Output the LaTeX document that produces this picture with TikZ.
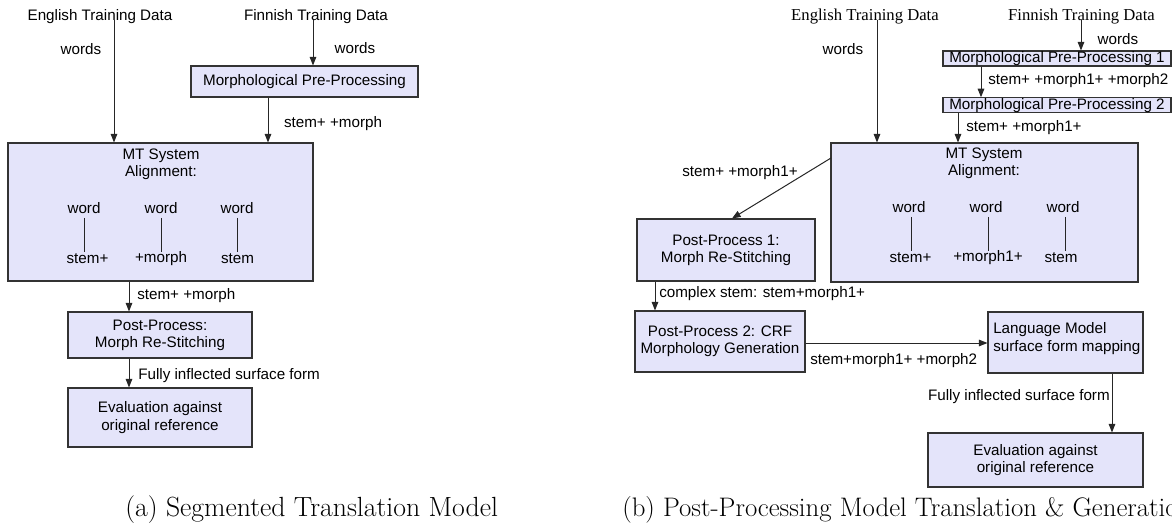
\documentclass[tikz,border=0pt]{standalone}
\usepackage{fontspec}
\newfontfamily\lsansfam{Liberation Sans}
\newfontfamily\lseriffam{Liberation Serif}
\usetikzlibrary{arrows.meta}
\definecolor{boxfill}{RGB}{228,228,250}
\newcommand\lsans{\lsansfam\fontsize{11.4}{12.9}\selectfont}
\newcommand\lserif{\lseriffam\fontsize{12.5}{14}\selectfont}
\newcommand\capfont{\rmfamily\fontsize{20.8}{24}\selectfont}
\newcommand\capfontb{\rmfamily\fontsize{20.1}{24}\selectfont}
\begin{document}
\begin{tikzpicture}[x=0.75pt,y=-0.75pt,
  box/.style={draw=black!80, fill=boxfill, line width=0.8pt, inner sep=0pt, align=center, font=\lsans},
  wh/.style 2 args={minimum width=#1*0.75pt, minimum height=#2*0.75pt},
  slim/.style={text height=8.4pt, text depth=2.4pt},
  lbl/.style={inner sep=0pt, font=\lsans, align=center},
  slbl/.style={inner sep=0pt, font=\lserif},
  arr/.style={draw=black!85, line width=0.75pt, -{Triangle[length=6.5pt,width=5pt]}},
  ln/.style={draw=black!85, line width=0.75pt},
  captxt/.style={inner sep=0pt, font=\capfont, anchor=west}]
\useasboundingbox (0,0) rectangle (1172,529);

% ---------------- (a) ----------------
\node[lbl] (engA) at (100,17) {English Training Data};
\node[lbl] (finA) at (316,17) {Finnish Training Data};
\node[lbl] (wA1) at (81,49) {words};
\node[lbl] (wA2) at (355,48) {words};
\node[box, wh={227}{31}] (mppA) at (304.5,81.5) {Morphological Pre-Processing};
\node[box, wh={305}{138}] (mtA) at (160.5,212) {};
\node[lbl] (mtAt) at (161,164.5) {MT System\\Alignment:};
\node[lbl] (aw1) at (84,208) {word};
\node[lbl] (aw2) at (161,208) {word};
\node[lbl] (aw3) at (237,208) {word};
\node[lbl] (as1) at (87.5,259) {stem+};
\node[lbl] (as2) at (161,259) {+morph};
\node[lbl] (as3) at (237.5,259) {stem};
\foreach \i in {1,2,3}{
  \draw[ln] ([yshift=-3pt]aw\i.south) -- ([yshift=-3pt]aw\i.south |- {0,248});
}
\node[box, wh={184}{46}] (ppA) at (160,335) {Post-Process:\\Morph Re-Stitching};
\node[box, wh={184}{59}] (evA) at (160,417.5) {Evaluation against\\original reference};

\coordinate (eA) at (114,20);
\coordinate (fA) at (313,20);
\coordinate (mA) at (268,97);
\coordinate (pA) at (129,281);
\draw[arr] (eA) -- (eA |- mtA.north);
\draw[arr] (fA) -- (fA |- mppA.north);
\draw[arr] (mA |- mppA.south) -- (mA |- mtA.north);
\draw[arr] (pA |- mtA.south) -- (pA |- ppA.north);
\draw[arr] (pA |- ppA.south) -- (pA |- evA.north);
\node[lbl] (lA1) at (333,124) {stem+ +morph};
\node[lbl, anchor=west] (lA2) at (137,296) {stem+ +morph};
\node[lbl, anchor=west] (lA3) at (138,376) {Fully inflected surface form};
\node[captxt] (capA) at (125,510) {(a) Segmented Translation Model};

% ---------------- (b) ----------------
\node[slbl] (engB) at (865,17) {English Training Data};
\node[slbl] (finB) at (1081.5,17) {Finnish Training Data};
\node[lbl] (wB1) at (843,49) {words};
\node[lbl] (wB2) at (1118,39) {words};
\node[box, slim, wh={228}{15}] (mpp1) at (1057,58.5) {Morphological Pre-Processing 1};
\node[box, slim, wh={228}{14}] (mpp2) at (1057,105) {Morphological Pre-Processing 2};
\node[box, wh={307}{139}] (mtB) at (984.5,212.5) {};
\node[lbl] (mtBt) at (984,163.5) {MT System\\Alignment:};
\node[lbl] (bw1) at (909,207) {word};
\node[lbl] (bw2) at (986,207) {word};
\node[lbl] (bw3) at (1063,207) {word};
\node[lbl] (bs1) at (910.5,258) {stem+};
\node[lbl] (bs2) at (988,258) {+morph1+};
\node[lbl] (bs3) at (1061,258) {stem};
\foreach \i in {1,2,3}{
  \draw[ln] ([yshift=-3pt,xshift=2pt]bw\i.south) -- ([yshift=-3pt,xshift=2pt]bw\i.south |- {0,247});
}
\node[box, wh={178}{62}] (pp1) at (726,250) {Post-Process 1:\\Morph Re-Stitching};
\node[box, wh={170}{61}] (pp2) at (720,341.5) {Post-Process 2: CRF\\Morphology Generation};
\node[box, wh={155}{61}] (lm) at (1065.5,342.5) {};
\node[lbl, anchor=west, align=left] (lmt) at (993,338.5) {Language Model\\surface form mapping};
\node[box, wh={215}{54}] (evB) at (1035.5,460) {Evaluation against\\original reference};

\coordinate (eB) at (877,20);
\coordinate (fB) at (1081,20);
\coordinate (m1) at (981,66);
\coordinate (m2) at (958,112);
\coordinate (dg) at (831,158);
\coordinate (p1) at (655,281);
\coordinate (lmx) at (1112,373);
\draw[arr] (eB) -- (eB |- mtB.north);
\draw[arr] (fB) -- (fB |- mpp1.north);
\draw[arr] (m1 |- mpp1.south) -- (m1 |- mpp2.north);
\draw[arr] (m2 |- mpp2.south) -- (m2 |- mtB.north);
\draw[arr] (dg) -- ([xshift=4.5pt]pp1.north);
\draw[arr] (p1 |- pp1.south) -- (p1 |- pp2.north);
\draw[arr] (pp2.east |- {0,343}) -- (lm.west |- {0,343});
\draw[arr] (lmx |- lm.south) -- (lmx |- evB.north);
\node[lbl, anchor=west] (lB1) at (988,81) {stem+ +morph1+ +morph2};
\node[lbl, anchor=west] (lB2) at (966,128) {stem+ +morph1+};
\node[lbl] (lB3) at (740,173) {stem+ +morph1+};
\node[lbl, anchor=west] (lB4) at (659,294) {complex stem: stem+morph1+};
\node[lbl, anchor=west] (lB5) at (810,361) {stem+morph1+ +morph2};
\node[lbl, anchor=east] (lB6) at (1110,397) {Fully inflected surface form};
\node[captxt, font=\capfontb] (capB) at (622,510) {(b) Post-Processing Model Translation \& Generation};
\end{tikzpicture}
\end{document}
